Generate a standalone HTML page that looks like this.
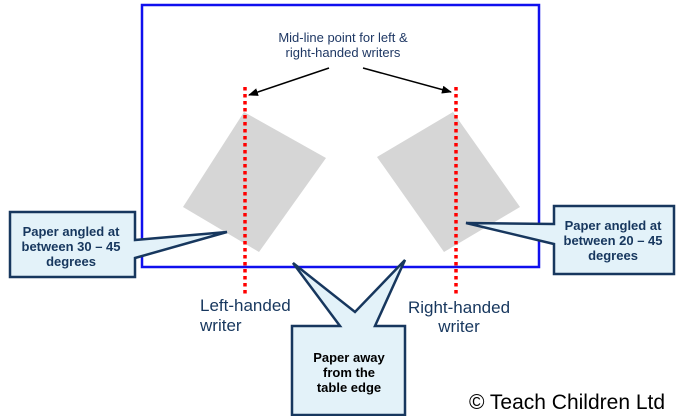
<!DOCTYPE html>
<html><head><meta charset="utf-8"><style>
body{margin:0;width:680px;height:416px;background:#fff;overflow:hidden}
svg{display:block}
text{font-family:"Liberation Sans",Arial,sans-serif}
</style></head><body>
<svg width="680" height="416" viewBox="0 0 680 416">
<defs><marker id="ah" markerWidth="10" markerHeight="8" refX="9" refY="4" orient="auto" markerUnits="userSpaceOnUse"><path d="M0,0 L10,4 L0,8 Z" fill="#000"/></marker></defs>
<rect x="142" y="5" width="397" height="262" fill="none" stroke="#1010ee" stroke-width="2.5"/>
<polygon points="183,207 244,112 326,158 259,252" fill="#d6d6d6"/>
<polygon points="377,157 453,112 520,207 444,252" fill="#d6d6d6"/>
<line x1="245" y1="87" x2="245" y2="297" stroke="#ff0000" stroke-width="3.5" stroke-dasharray="3.5,3.5"/>
<line x1="456" y1="87" x2="456" y2="297" stroke="#ff0000" stroke-width="3.5" stroke-dasharray="3.5,3.5"/>
<text x="343" y="42" font-size="13" fill="#1f3864" text-anchor="middle">Mid-line point for left &amp;</text>
<text x="343" y="57" font-size="13" fill="#1f3864" text-anchor="middle">right-handed writers</text>
<line x1="329" y1="68" x2="249" y2="95" stroke="#000" stroke-width="1.5" marker-end="url(#ah)"/>
<line x1="363" y1="68" x2="451" y2="92" stroke="#000" stroke-width="1.5" marker-end="url(#ah)"/>
<path d="M10,212 L135,212 L135,240 L227,232 L135,258 L135,277 L10,277 Z" fill="#e3f2f9" stroke="#17375e" stroke-width="2.5" stroke-linejoin="miter"/>
<text font-size="13" font-weight="bold" fill="#17375e" text-anchor="middle"><tspan x="71" y="236">Paper angled at</tspan><tspan x="71" y="251">between 30 – 45</tspan><tspan x="71" y="266">degrees</tspan></text>
<path d="M554,206 L674,206 L674,274 L554,274 L554,244 L466,223 L554,224 Z" fill="#e3f2f9" stroke="#17375e" stroke-width="2.5"/>
<text font-size="13" font-weight="bold" fill="#17375e" text-anchor="middle"><tspan x="613" y="230">Paper angled at</tspan><tspan x="613" y="245">between 20 – 45</tspan><tspan x="613" y="260">degrees</tspan></text>
<path d="M292,326 L340,326 L293,263 L355,312 L405,260 L375,326 L405,326 L405,415 L292,415 Z" fill="#e3f2f9" stroke="#17375e" stroke-width="2.5"/>
<text font-size="13" font-weight="bold" fill="#000" text-anchor="middle"><tspan x="349" y="362">Paper away</tspan><tspan x="349" y="377">from the</tspan><tspan x="349" y="392">table edge</tspan></text>
<text font-size="17" fill="#17375e"><tspan x="200" y="311">Left-handed</tspan><tspan x="200" y="331">writer</tspan></text>
<text font-size="17" fill="#17375e" text-anchor="middle"><tspan x="459" y="313">Right-handed</tspan><tspan x="459" y="332">writer</tspan></text>
<text x="469" y="409" font-size="21" fill="#000">© Teach Children Ltd</text>
</svg>
</body></html>
